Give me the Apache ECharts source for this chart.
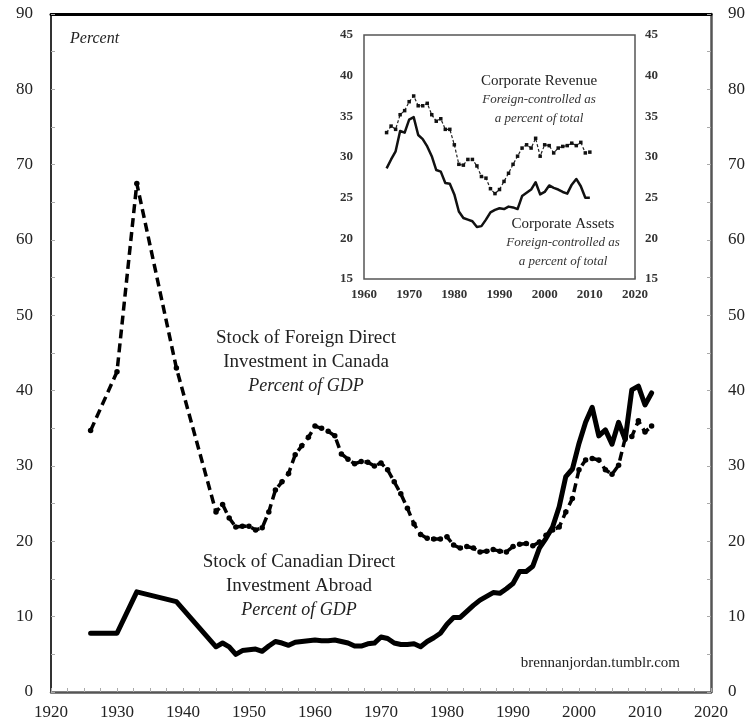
<!DOCTYPE html>
<html>
<head>
<meta charset="utf-8">
<script src="https://cdn.jsdelivr.net/npm/echarts@6/dist/echarts.min.js"></script>
<style>html,body{margin:0;padding:0;background:#fff}#c{width:752px;height:727px}</style>
</head>
<body>
<div id="c"></div>
<script>
// Main chart: Stock of Foreign Direct Investment in Canada (% of GDP)
const fdiYears = [1926,1930,1933,1939,1945,1946,1947,1948,1949,1950,1951,1952,1953,1954,1955,1956,1957,1958,1959,1960,
  1961,1962,1963,1964,1965,1966,1967,1968,1969,1970,1971,1972,1973,1974,1975,1976,1977,1978,1979,1980,
  1981,1982,1983,1984,1985,1986,1987,1988,1989,1990,1991,1992,1993,1994,1995,1996,1997,1998,1999,2000,
  2001,2002,2003,2004,2005,2006,2007,2008,2009,2010,2011];
const fdiValues = [34.7,42.5,67.5,43.0,23.9,24.9,23.1,21.9,22.0,22.0,21.5,21.8,23.9,26.8,27.9,29.0,31.5,32.7,33.8,35.3,
  35.0,34.6,34.0,31.6,30.9,30.3,30.6,30.5,30.0,30.4,29.5,27.9,26.3,24.4,22.3,20.9,20.4,20.3,20.3,20.6,
  19.5,19.1,19.3,19.1,18.6,18.7,18.9,18.7,18.6,19.3,19.6,19.7,19.4,19.9,20.8,21.5,21.9,23.9,25.7,29.5,
  30.8,31.0,30.8,29.5,28.9,30.1,33.7,33.9,36.0,34.5,35.3];
// Stock of Canadian Direct Investment Abroad (% of GDP)
const cdiaYears = fdiYears;
const cdiaValues = [7.8,7.8,13.3,12.0,6.0,6.5,6.0,5.0,5.5,5.6,5.7,5.4,6.1,6.7,6.5,6.2,6.6,6.7,6.8,6.9,
  6.8,6.8,6.9,6.7,6.5,6.1,6.1,6.4,6.5,7.3,7.1,6.5,6.3,6.3,6.4,6.0,6.7,7.2,7.8,9.0,
  9.9,9.9,10.7,11.5,12.2,12.7,13.2,13.1,13.7,14.4,16.0,16.0,16.7,19.1,20.4,21.9,24.6,28.6,29.6,33.0,
  35.8,37.8,34.0,34.8,32.9,35.8,33.5,40.1,40.6,38.1,39.7];
// Inset: foreign-controlled share of corporate revenue and assets
const insetYears = [1965,1966,1967,1968,1969,1970,1971,1972,1973,1974,1975,1976,1977,1978,1979,1980,1981,1982,1983,1984,
  1985,1986,1987,1988,1989,1990,1991,1992,1993,1994,1995,1996,1997,1998,1999,2000,2001,2002,2003,2004,
  2005,2006,2007,2008,2009,2010];
const revenueValues = [33.0,33.8,33.4,35.2,35.7,36.8,37.5,36.3,36.3,36.6,35.2,34.4,34.7,33.4,33.4,31.5,29.1,29.0,29.7,29.7,
  28.9,27.6,27.4,26.1,25.5,26.0,27.0,28.0,29.1,30.1,31.1,31.5,31.1,32.3,30.1,31.5,31.4,30.5,31.1,31.3,
  31.4,31.7,31.4,31.8,30.5,30.6];
const assetsValues = [28.6,29.7,30.7,33.2,33.0,34.6,34.9,32.7,32.2,31.3,30.1,28.4,28.2,26.8,26.7,25.4,23.3,22.5,22.3,22.1,
  21.4,21.5,22.3,23.2,23.5,23.7,23.6,23.9,23.8,23.6,25.2,25.6,26.0,26.9,25.4,25.7,26.5,26.2,26.0,25.7,
  25.5,26.6,27.3,26.4,25.0,25.0];
const mainYTicks = [0,10,20,30,40,50,60,70,80,90];
const mainXTicks = [1920,1930,1940,1950,1960,1970,1980,1990,2000,2010,2020];

const pair = (xs, ys) => xs.map((x, i) => [x, ys[i]]);
const SERIF = '"Liberation Serif","DejaVu Serif",serif';

const chart = echarts.init(document.getElementById('c'), null, {renderer: 'canvas'});
const fmtMainY = v => (mainYTicks.indexOf(v) >= 0 ? String(v) : '');
const fmtMainX = v => (mainXTicks.indexOf(v) >= 0 ? String(v) : '');
const plain = v => String(v);

chart.setOption({
  animation: false,
  backgroundColor: '#fff',
  grid: [
    {left: 51, right: 41, top: 14, bottom: 35},
    {left: 364, right: 117, top: 35, bottom: 448, show: true, backgroundColor: '#fff', borderColor: '#555', borderWidth: 1.5, z: 5}
  ],
  xAxis: [
    {gridIndex: 0, type: 'value', min: 1920, max: 2020, interval: 2.5, position: 'bottom',
      axisLine: {show: true, lineStyle: {color: '#555', width: 2.5}},
      axisTick: {show: true, inside: true, length: 4, lineStyle: {color: '#aaa', width: 1}},
      axisLabel: {formatter: fmtMainX, fontFamily: SERIF, fontSize: 17, color: '#222', margin: 12},
      splitLine: {show: false}},
    {gridIndex: 0, type: 'value', min: 1920, max: 2020, position: 'top',
      axisLine: {show: true, onZero: false, lineStyle: {color: '#000', width: 3}},
      axisTick: {show: false}, axisLabel: {show: false}, splitLine: {show: false}},
    {gridIndex: 1, type: 'value', min: 1960, max: 2020, interval: 10, position: 'bottom',
      axisLine: {show: false}, axisTick: {show: true, inside: true, length: 3, lineStyle: {color: '#bbb'}},
      axisLabel: {formatter: plain, fontFamily: SERIF, fontSize: 13, fontWeight: 'bold', color: '#333', margin: 9},
      splitLine: {show: false}}
  ],
  yAxis: [
    {gridIndex: 0, type: 'value', min: 0, max: 90, interval: 5, position: 'left',
      axisLine: {show: true, lineStyle: {color: '#333', width: 2}},
      axisTick: {show: true, inside: true, length: 4, lineStyle: {color: '#aaa'}},
      axisLabel: {formatter: fmtMainY, fontFamily: SERIF, fontSize: 17, color: '#222', margin: 18},
      splitLine: {show: false}},
    {gridIndex: 0, type: 'value', min: 0, max: 90, interval: 5, position: 'right',
      axisLine: {show: true, lineStyle: {color: '#555', width: 2.5}},
      axisTick: {show: true, inside: true, length: 4, lineStyle: {color: '#aaa'}},
      axisLabel: {formatter: fmtMainY, fontFamily: SERIF, fontSize: 17, color: '#222', margin: 17},
      splitLine: {show: false}},
    {gridIndex: 1, type: 'value', min: 15, max: 45, interval: 5, position: 'left',
      axisLine: {show: false}, axisTick: {show: false},
      axisLabel: {formatter: plain, fontFamily: SERIF, fontSize: 13, fontWeight: 'bold', color: '#333', margin: 11},
      splitLine: {show: false}},
    {gridIndex: 1, type: 'value', min: 15, max: 45, interval: 5, position: 'right',
      axisLine: {show: false}, axisTick: {show: false},
      axisLabel: {formatter: plain, fontFamily: SERIF, fontSize: 13, fontWeight: 'bold', color: '#333', margin: 10},
      splitLine: {show: false}}
  ],
  series: [
    {type: 'line', xAxisIndex: 0, yAxisIndex: 0, data: pair(fdiYears, fdiValues),
      symbol: 'circle', symbolSize: 5.5, itemStyle: {color: '#000'},
      lineStyle: {color: '#000', width: 3.5, type: [9, 5]}, z: 3},
    {type: 'line', xAxisIndex: 0, yAxisIndex: 0, data: pair(cdiaYears, cdiaValues),
      symbol: 'none', lineStyle: {color: '#000', width: 5, join: 'round', cap: 'round'}, z: 4},
    {type: 'line', xAxisIndex: 2, yAxisIndex: 2, data: pair(insetYears, revenueValues),
      symbol: 'rect', symbolSize: 3.5, itemStyle: {color: '#111'},
      lineStyle: {color: '#222', width: 1.2, type: [3, 2]}, z: 6},
    {type: 'line', xAxisIndex: 2, yAxisIndex: 2, data: pair(insetYears, assetsValues),
      symbol: 'none', lineStyle: {color: '#111', width: 2.5, join: 'round'}, z: 6}
  ],
  graphic: [
    {type: 'text', left: 70, top: 31, style: {text: 'Percent', font: 'italic 16px ' + SERIF, fill: '#222'}},
    {type: 'text', x: 306, y: 338, style: {text: 'Stock of Foreign Direct', font: '19px ' + SERIF, fill: '#222', textAlign: 'center', textVerticalAlign: 'middle'}},
    {type: 'text', x: 306, y: 362, style: {text: 'Investment in Canada', font: '19px ' + SERIF, fill: '#222', textAlign: 'center', textVerticalAlign: 'middle'}},
    {type: 'text', x: 306, y: 386, style: {text: 'Percent of GDP', font: 'italic 18px ' + SERIF, fill: '#222', textAlign: 'center', textVerticalAlign: 'middle'}},
    {type: 'text', x: 299, y: 562, style: {text: 'Stock of Canadian Direct', font: '19px ' + SERIF, fill: '#222', textAlign: 'center', textVerticalAlign: 'middle'}},
    {type: 'text', x: 299, y: 586, style: {text: 'Investment Abroad', font: '19px ' + SERIF, fill: '#222', textAlign: 'center', textVerticalAlign: 'middle'}},
    {type: 'text', x: 299, y: 610, style: {text: 'Percent of GDP', font: 'italic 18px ' + SERIF, fill: '#222', textAlign: 'center', textVerticalAlign: 'middle'}},
    {type: 'text', x: 680, y: 663, style: {text: 'brennanjordan.tumblr.com', font: '15px ' + SERIF, fill: '#222', textAlign: 'right', textVerticalAlign: 'middle'}},
    {type: 'text', x: 539, y: 81, z: 10, style: {text: 'Corporate Revenue', font: '15px ' + SERIF, fill: '#222', textAlign: 'center', textVerticalAlign: 'middle'}},
    {type: 'text', x: 539, y: 100, z: 10, style: {text: 'Foreign-controlled as', font: 'italic 13px ' + SERIF, fill: '#333', textAlign: 'center', textVerticalAlign: 'middle'}},
    {type: 'text', x: 539, y: 119, z: 10, style: {text: 'a percent of total', font: 'italic 13px ' + SERIF, fill: '#333', textAlign: 'center', textVerticalAlign: 'middle'}},
    {type: 'text', x: 563, y: 224, z: 10, style: {text: 'Corporate Assets', font: '15px ' + SERIF, fill: '#222', textAlign: 'center', textVerticalAlign: 'middle'}},
    {type: 'text', x: 563, y: 243, z: 10, style: {text: 'Foreign-controlled as', font: 'italic 13px ' + SERIF, fill: '#333', textAlign: 'center', textVerticalAlign: 'middle'}},
    {type: 'text', x: 563, y: 262, z: 10, style: {text: 'a percent of total', font: 'italic 13px ' + SERIF, fill: '#333', textAlign: 'center', textVerticalAlign: 'middle'}}
  ]
});
</script>
</body>
</html>
